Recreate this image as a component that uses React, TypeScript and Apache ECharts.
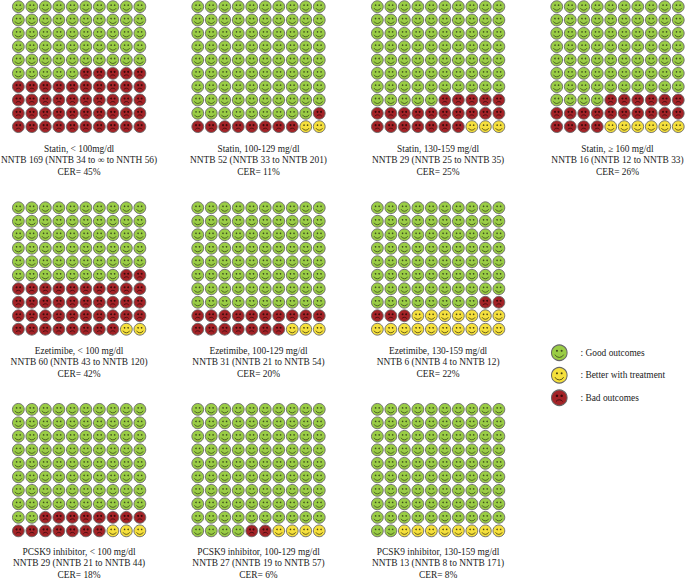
import React, { useEffect, useRef } from "react";
import * as echarts from "echarts";

const panelTitles = [
  "Statin, < 100mg/dl", "Statin, 100-129 mg/dl", "Statin, 130-159 mg/dl", "Statin, ≥ 160 mg/dl",
  "Ezetimibe, < 100 mg/dl", "Ezetimibe, 100-129 mg/dl", "Ezetimibe, 130-159 mg/dl",
  "PCSK9 inhibitor, < 100 mg/dl", "PCSK9 inhibitor, 100-129 mg/dl", "PCSK9 inhibitor, 130-159 mg/dl",
];
const nntbLines = [
  "NNTB 169 (NNTB 34 to ∞ to NNTH 56)", "NNTB 52 (NNTB 33 to NNTB 201)", "NNTB 29 (NNTB 25 to NNTB 35)", "NNTB 16 (NNTB 12 to NNTB 33)",
  "NNTB 60 (NNTB 43 to NNTB 120)", "NNTB 31 (NNTB 21 to NNTB 54)", "NNTB 6 (NNTB 4 to NNTB 12)",
  "NNTB 29 (NNTB 21 to NNTB 44)", "NNTB 27 (NNTB 19 to NNTB 57)", "NNTB 13 (NNTB 8 to NNTB 171)",
];
const cerLines = ["CER= 45%", "CER= 11%", "CER= 25%", "CER= 26%", "CER= 42%", "CER= 20%", "CER= 22%", "CER= 18%", "CER= 6%", "CER= 8%"];
const goodCounts = [55, 89, 75, 74, 58, 80, 78, 82, 94, 92];
const badCounts = [45, 9, 22, 20, 40, 17, 5, 15, 2, 0];
const betterCounts = [0, 2, 3, 6, 2, 3, 17, 3, 4, 8];
const legendLabels = [": Good outcomes", ": Better with treatment", ": Bad outcomes"];

const COLORS = ["#9acd45", "#f5e03c", "#a32327"];
const INK = ["#3c4a20", "#4a4012", "#3a0a0c"];
const GRID_LEFT = [11.6, 191, 370.6, 550];
const GRID_TOP = [-1.7, 201, 402.6];
const PANEL_POS = [[0, 0], [1, 0], [2, 0], [3, 0], [0, 1], [1, 1], [2, 1], [0, 2], [1, 2], [2, 2]];
const TEXT_Y = [148.5, 350.5, 552];
const LINE_STEP = [11.6, 11.6, 11.3];
const SERIF = '"Liberation Serif", "Times New Roman", serif';

function faceItem(radius: number) {
  return (_: any, api: any) => {
    const [cx, cy] = api.coord([api.value(0), api.value(1)]);
    const kind = api.value(2);
    const r = radius;
    const ink = INK[kind];
    const mouthY = kind === 2 ? cy + 0.78 * r : cy - 0.02 * r;
    const mouthR = kind === 2 ? 0.52 * r : 0.62 * r;
    const eyeR = kind === 2 ? 0.16 * r : 0.13 * r;
    return {
      type: "group",
      children: [
        { type: "circle", shape: { cx, cy, r }, style: { fill: COLORS[kind], stroke: "#666", lineWidth: Math.max(0.9, r * 0.13) } },
        { type: "circle", shape: { cx: cx - 0.3 * r, cy: cy - 0.25 * r, r: eyeR }, style: { fill: ink } },
        { type: "circle", shape: { cx: cx + 0.3 * r, cy: cy - 0.25 * r, r: eyeR }, style: { fill: ink } },
        {
          type: "arc",
          shape: kind === 2
            ? { cx, cy: mouthY, r: mouthR, startAngle: (215 * Math.PI) / 180, endAngle: (325 * Math.PI) / 180, clockwise: true }
            : { cx, cy: mouthY, r: mouthR, startAngle: (25 * Math.PI) / 180, endAngle: (155 * Math.PI) / 180, clockwise: true },
          style: { stroke: ink, fill: "none", lineWidth: Math.max(0.8, r * 0.11) },
        },
      ],
    };
  };
}

function cells(good: number, bad: number, better: number) {
  const kinds = [...Array(good).fill(0), ...Array(bad).fill(2), ...Array(better).fill(1)];
  return kinds.map((k, i) => [i % 10, Math.floor(i / 10), k]);
}

export default function App() {
  const ref = useRef<HTMLDivElement>(null);
  useEffect(() => {
    const chart = echarts.init(ref.current!, undefined, { renderer: "svg" });
    const grid: any[] = [];
    const xAxis: any[] = [];
    const yAxis: any[] = [];
    const series: any[] = [];
    const graphic: any[] = [];
    const hiddenAxis = { type: "value", show: false };

    panelTitles.forEach((title, i) => {
      const [col, row] = PANEL_POS[i];
      grid.push({ left: GRID_LEFT[col], top: GRID_TOP[row], width: 135, height: 135 });
      xAxis.push({ ...hiddenAxis, gridIndex: i, min: -0.5, max: 9.5 });
      yAxis.push({ ...hiddenAxis, gridIndex: i, min: -0.5, max: 9.5, inverse: true });
      series.push({
        type: "custom",
        coordinateSystem: "cartesian2d",
        xAxisIndex: i,
        yAxisIndex: i,
        clip: false,
        silent: true,
        data: cells(goodCounts[i], badCounts[i], betterCounts[i]),
        renderItem: faceItem(5.9),
      });
      [title, nntbLines[i], cerLines[i]].forEach((line, j) => {
        graphic.push({
          type: "text",
          x: GRID_LEFT[col] + 67.5,
          y: TEXT_Y[row] + j * LINE_STEP[row],
          style: { text: line, font: `9.4px ${SERIF}`, fill: "#222", align: "center", verticalAlign: "middle" },
        });
      });
    });

    // Legend: one column of three faces on its own small grid
    const li = panelTitles.length;
    grid.push({ left: 551, top: 341.5, width: 16.6, height: 67.5 });
    xAxis.push({ ...hiddenAxis, gridIndex: li, min: -0.5, max: 0.5 });
    yAxis.push({ ...hiddenAxis, gridIndex: li, min: -0.5, max: 2.5, inverse: true });
    series.push({
      type: "custom",
      coordinateSystem: "cartesian2d",
      xAxisIndex: li,
      yAxisIndex: li,
      clip: false,
      silent: true,
      data: [[0, 0, 0], [0, 1, 1], [0, 2, 2]],
      renderItem: faceItem(7.8),
    });
    legendLabels.forEach((text, i) => {
      graphic.push({
        type: "text",
        x: 580.5,
        y: 352.8 + i * 22.5,
        style: { text, font: `9.4px ${SERIF}`, fill: "#222", align: "left", verticalAlign: "middle" },
      });
    });

    chart.setOption({ animation: false, backgroundColor: "#fff", grid, xAxis, yAxis, series, graphic });
    return () => chart.dispose();
  }, []);
  return <div ref={ref} style={{ position: "fixed", left: 0, top: 0, width: 685, height: 579 }} />;
}
